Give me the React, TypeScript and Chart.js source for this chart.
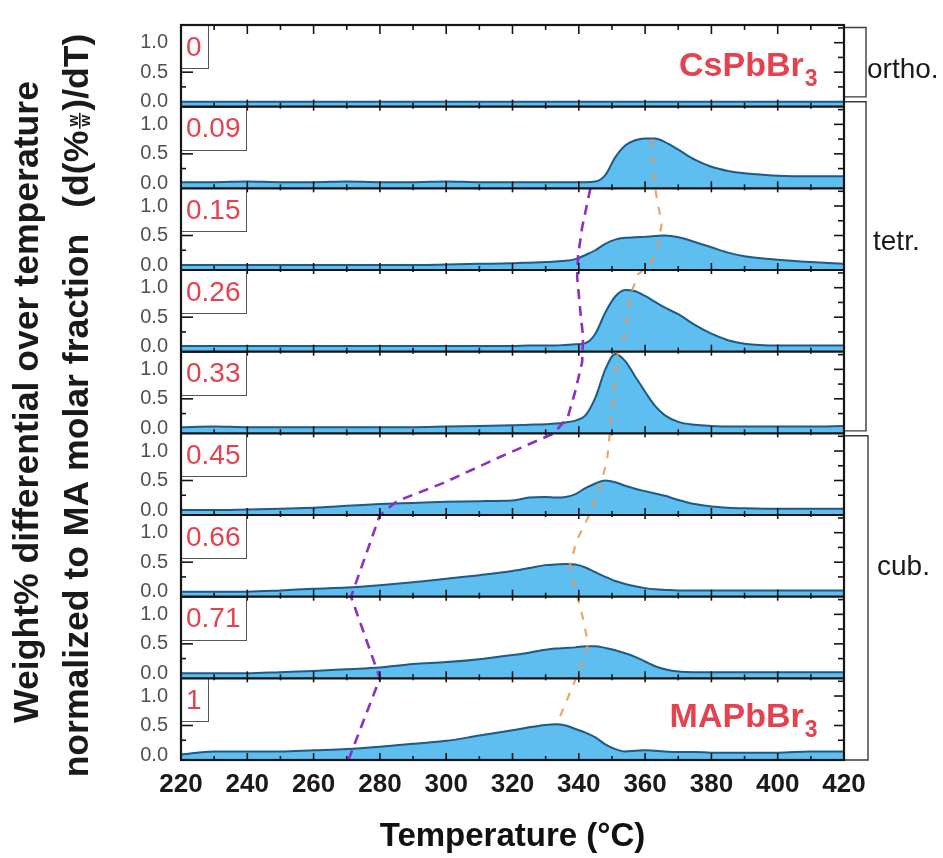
import React, { useEffect, useRef } from 'react';
import { Chart, registerables } from 'chart.js';

Chart.register(...registerables);

// ---------------- data ----------------
const TEMPERATURE_C = [220, 230, 240, 250, 260, 270, 280, 290, 300, 310, 320, 325, 330, 333, 336, 339, 342, 345, 348, 351, 354, 357, 360, 363, 366, 370, 375, 380, 385, 390, 400, 410, 420];

const MA_FRACTION_LABELS = ['0', '0.09', '0.15', '0.26', '0.33', '0.45', '0.66', '0.71', '1'];

const DTG_X000 = [0, 0, 0, 0, 0, 0, 0, 0, 0, 0, 0, 0, 0, 0, 0, 0, 0, 0, 0, 0, 0, 0, 0, 0, 0, 0, 0, 0, 0, 0, 0, 0, 0];
const DTG_X009 = [0.02, 0.02, 0.03, 0.02, 0.02, 0.03, 0.02, 0.02, 0.03, 0.02, 0.02, 0.02, 0.02, 0.02, 0.02, 0.02, 0.02, 0.03, 0.14, 0.44, 0.64, 0.73, 0.76, 0.76, 0.7, 0.57, 0.4, 0.28, 0.21, 0.17, 0.13, 0.12, 0.12];
const DTG_X015 = [0, 0, 0, 0, 0, 0, 0, 0, 0.01, 0.02, 0.03, 0.04, 0.05, 0.06, 0.07, 0.1, 0.17, 0.25, 0.36, 0.43, 0.46, 0.47, 0.48, 0.49, 0.5, 0.47, 0.39, 0.3, 0.21, 0.15, 0.09, 0.05, 0.02];
const DTG_X026 = [0.01, 0.01, 0.01, 0.01, 0.01, 0.01, 0.01, 0.01, 0.01, 0.01, 0.01, 0.02, 0.02, 0.02, 0.03, 0.04, 0.06, 0.22, 0.58, 0.85, 0.96, 0.94, 0.86, 0.76, 0.66, 0.55, 0.37, 0.22, 0.11, 0.05, 0.02, 0.02, 0.02];
const DTG_X033 = [0.02, 0.03, 0.02, 0.02, 0.02, 0.02, 0.02, 0.02, 0.03, 0.04, 0.05, 0.06, 0.07, 0.08, 0.1, 0.13, 0.22, 0.52, 1.0, 1.26, 1.14, 0.88, 0.62, 0.38, 0.22, 0.11, 0.06, 0.04, 0.03, 0.03, 0.03, 0.03, 0.04];
const DTG_X045 = [0, 0, 0.01, 0.02, 0.04, 0.07, 0.1, 0.12, 0.14, 0.15, 0.16, 0.21, 0.22, 0.21, 0.22, 0.27, 0.37, 0.45, 0.5, 0.47, 0.41, 0.36, 0.32, 0.28, 0.24, 0.17, 0.1, 0.06, 0.04, 0.03, 0.02, 0.02, 0.02];
const DTG_X066 = [0, 0, 0, 0.02, 0.05, 0.07, 0.11, 0.16, 0.22, 0.28, 0.35, 0.4, 0.45, 0.46, 0.47, 0.46, 0.41, 0.33, 0.25, 0.18, 0.13, 0.09, 0.06, 0.04, 0.03, 0.02, 0.02, 0.02, 0.02, 0.02, 0.02, 0.02, 0.02];
const DTG_X071 = [0, 0, 0, 0.02, 0.04, 0.07, 0.1, 0.16, 0.19, 0.24, 0.31, 0.35, 0.4, 0.42, 0.43, 0.44, 0.46, 0.46, 0.43, 0.39, 0.34, 0.28, 0.2, 0.12, 0.07, 0.03, 0.02, 0.02, 0.02, 0.02, 0.02, 0.02, 0.02];
const DTG_X100 = [0.01, 0.06, 0.06, 0.06, 0.08, 0.1, 0.14, 0.19, 0.24, 0.33, 0.42, 0.47, 0.51, 0.52, 0.5, 0.44, 0.38, 0.3, 0.18, 0.1, 0.06, 0.07, 0.08, 0.07, 0.06, 0.05, 0.05, 0.04, 0.04, 0.04, 0.04, 0.06, 0.06];

const PANEL_SERIES = [DTG_X000, DTG_X009, DTG_X015, DTG_X026, DTG_X033, DTG_X045, DTG_X066, DTG_X071, DTG_X100];

// guide lines: temperature vs. position in panel units (0 = top of first panel, 9 = bottom of last)
const PURPLE_T = [343.5, 341.0, 339.8, 339.5, 340.4, 341.3, 341.0, 338.9, 336.7, 332.5, 316.2, 299.0, 285.2, 280.0, 271.3, 280.0, 270.5];
const PURPLE_POS = [2.0, 2.48, 2.82, 3.08, 3.48, 3.82, 4.13, 4.49, 4.8, 5.0, 5.29, 5.61, 5.83, 6.0, 7.0, 8.0, 9.0];
const ORANGE_T = [362.1, 362.4, 363.6, 365.0, 363.9, 361.5, 357.9, 355.4, 354.5, 353.3, 351.8, 350.9, 350.3, 349.4, 348.5, 346.4, 343.4, 339.5, 337.3, 338.9, 341.3, 342.8, 341.0, 337.3, 334.3, 332.8];
const ORANGE_POS = [1.4, 1.82, 2.14, 2.43, 2.7, 2.93, 3.05, 3.33, 3.65, 3.89, 4.01, 4.29, 4.61, 4.98, 5.34, 5.65, 5.98, 6.3, 6.61, 6.9, 7.27, 7.58, 7.82, 8.18, 8.47, 8.54];

const X_MIN = 220;
const X_MAX = 420;
const X_TICK_STEP = 20;
const X_MINOR_STEP = 10;
const Y_MIN = -0.085;
const Y_MAX = 1.3;
const Y_TICK_VALUES = [0, 0.5, 1];
const Y_MARK_VALUES = [0.25, 0.5, 0.75, 1, 1.25];

const PHASE_NAMES = ['ortho.', 'tetr.', 'cub.'];
const PHASE_FROM = [0.03, 0.94, 5.03];
const PHASE_TO = [0.88, 4.97, 9.0];
const PHASE_LABEL_POS = [0.65, 2.75, 6.73];

const COMPOUND_NAMES = ['CsPbBr', 'MAPbBr'];
const COMPOUND_SUBSCRIPTS = ['3', '3'];
const COMPOUND_PANELS = [0, 8];

const Y_TITLE_LINE1 = 'Weight% differential over temperature';
const Y_TITLE_LINE2 = 'normalized to MA molar fraction';
const X_TITLE = 'Temperature (\u00B0C)';

// ---------------- styles ----------------
const FONT = '"Liberation Sans", Arial, sans-serif';
const RED = '#e5424f';
const FILL = '#5fbef0';
const LINE = '#1d5a86';

const panelDecor = {
  id: 'panelDecor',
  afterDatasetsDraw(chart: any) {
    const { ctx, chartArea: area, scales } = chart;
    const xs = scales.x;
    const yo = scales.yo;
    const n = PANEL_SERIES.length;
    const seg = (x1: number, y1: number, x2: number, y2: number) => {
      ctx.beginPath();
      ctx.moveTo(x1, y1);
      ctx.lineTo(x2, y2);
      ctx.stroke();
    };
    ctx.save();
    // inward tick marks
    ctx.strokeStyle = '#151515';
    ctx.lineWidth = 1.6;
    for (let i = 0; i < n; i++) {
      const ys = scales['y' + i];
      for (let t = X_MIN; t <= X_MAX; t += X_MINOR_STEP) {
        const px = xs.getPixelForValue(t);
        const major = (t - X_MIN) % X_TICK_STEP === 0;
        seg(px, ys.bottom, px, ys.bottom - (major ? 7 : 4));
        seg(px, ys.top, px, ys.top + (major ? (i === 0 ? 9 : 4) : (i === 0 ? 5 : 2)));
      }
      for (const v of Y_MARK_VALUES) {
        const py = ys.getPixelForValue(v);
        const major = v === 0.5 || v === 1;
        seg(area.left, py, area.left + (major ? 12 : 5), py);
        seg(area.right, py, area.right - (major ? 10 : 6), py);
      }
    }
    // label boxes
    ctx.font = '28px ' + FONT;
    ctx.textBaseline = 'middle';
    ctx.textAlign = 'left';
    for (let i = 0; i < n; i++) {
      const ys = scales['y' + i];
      const label = MA_FRACTION_LABELS[i];
      const w = Math.round(ctx.measureText(label).width + 11);
      ctx.fillStyle = '#ffffff';
      ctx.fillRect(area.left, ys.top, w, 43);
      ctx.strokeStyle = '#555555';
      ctx.lineWidth = 1;
      ctx.strokeRect(Math.round(area.left) + 0.5, Math.round(ys.top) + 0.5, w, 43);
      ctx.fillStyle = RED;
      ctx.fillText(label, area.left + 5, ys.top + 23);
    }
    // frames
    ctx.strokeStyle = '#151515';
    ctx.lineWidth = 2.2;
    ctx.strokeRect(area.left, area.top, area.right - area.left, area.bottom - area.top);
    for (let i = 1; i < n; i++) {
      const y = scales['y' + i].top;
      seg(area.left, y, area.right, y);
    }
    // compound names
    ctx.fillStyle = RED;
    ctx.textBaseline = 'alphabetic';
    COMPOUND_PANELS.forEach((p, k) => {
      const ys = scales['y' + p];
      ctx.font = 'bold 34px ' + FONT;
      const wMain = ctx.measureText(COMPOUND_NAMES[k]).width;
      ctx.font = 'bold 23px ' + FONT;
      const wSub = ctx.measureText(COMPOUND_SUBSCRIPTS[k]).width;
      const xr = xs.getPixelForValue(412);
      const base = ys.top + (k === 0 ? 51 : 49);
      ctx.font = 'bold 34px ' + FONT;
      ctx.fillText(COMPOUND_NAMES[k], xr - wSub - 1 - wMain, base);
      ctx.font = 'bold 23px ' + FONT;
      ctx.fillText(COMPOUND_SUBSCRIPTS[k], xr - wSub, base + 10);
    });
    // phase brackets
    PHASE_NAMES.forEach((name, k) => {
      const y1 = yo.getPixelForValue(PHASE_FROM[k]);
      const y2 = yo.getPixelForValue(PHASE_TO[k]);
      const xv = area.right + (k === 2 ? 24 : 22);
      ctx.strokeStyle = '#3a3a3a';
      ctx.lineWidth = 1.4;
      ctx.beginPath();
      ctx.moveTo(area.right + 1, y1);
      ctx.lineTo(xv, y1);
      ctx.lineTo(xv, y2);
      ctx.lineTo(area.right + 1, y2);
      ctx.stroke();
      ctx.fillStyle = '#1a1a1a';
      ctx.font = '28px ' + FONT;
      ctx.textAlign = 'left';
      ctx.textBaseline = 'alphabetic';
      ctx.fillText(name, xv + (k === 0 ? 1 : k === 1 ? 7 : 9), yo.getPixelForValue(PHASE_LABEL_POS[k]));
    });
    // y title
    const cy = (area.top + area.bottom) / 2;
    ctx.fillStyle = '#1a1a1a';
    ctx.font = 'bold 35.6px ' + FONT;
    ctx.save();
    ctx.translate(28, cy + 9.5);
    ctx.rotate(-Math.PI / 2);
    ctx.textAlign = 'center';
    ctx.textBaseline = 'middle';
    ctx.fillText(Y_TITLE_LINE1, 0, 0);
    ctx.restore();

    ctx.save();
    ctx.translate(78, cy + 13);
    ctx.rotate(-Math.PI / 2);
    ctx.textAlign = 'left';
    ctx.textBaseline = 'middle';
    ctx.font = 'bold 35.6px ' + FONT;
    const segA = Y_TITLE_LINE2;
    const segB = '(d(%';
    const segC = ')/dT)';
    const wA = ctx.measureText(segA).width;
    const wB = ctx.measureText(segB).width;
    const wC = ctx.measureText(segC).width;
    const gap = 26;
    const wF = 20;
    const total = wA + gap + wB + wF + wC;
    let x0 = -total / 2;
    ctx.fillText(segA, x0, 0);
    x0 += wA + gap;
    ctx.fillText(segB, x0, 0);
    x0 += wB;
    const fx = x0 + wF / 2;
    ctx.font = 'bold 15px ' + FONT;
    ctx.textAlign = 'center';
    ctx.textBaseline = 'alphabetic';
    ctx.fillText('w', fx, -0.5);
    ctx.fillText('w', fx, 12);
    ctx.strokeStyle = '#1a1a1a';
    ctx.lineWidth = 1.6;
    seg(fx - 8, 1.8, fx + 8, 1.8);
    x0 += wF;
    ctx.font = 'bold 35.6px ' + FONT;
    ctx.textAlign = 'left';
    ctx.textBaseline = 'middle';
    ctx.fillText(segC, x0, 0);
    ctx.restore();

    ctx.restore();
  },
};

export default function App() {
  const canvasRef = useRef<HTMLCanvasElement | null>(null);

  useEffect(() => {
    const canvas = canvasRef.current;
    if (!canvas) return;
    Chart.defaults.font.family = FONT;

    const datasets: any[] = [
      {
        label: 'tetr./cub. boundary',
        data: PURPLE_T.map((t, k) => ({ x: t, y: PURPLE_POS[k] })),
        xAxisID: 'x',
        yAxisID: 'yo',
        borderColor: '#8b2fc9',
        borderWidth: 2.6,
        borderDash: [10, 7],
        fill: false,
        pointRadius: 0,
        tension: 0,
        order: 0,
      },
      {
        label: 'peak position',
        data: ORANGE_T.map((t, k) => ({ x: t, y: ORANGE_POS[k] })),
        xAxisID: 'x',
        yAxisID: 'yo',
        borderColor: 'rgba(232,150,82,0.85)',
        borderWidth: 2.2,
        borderDash: [8, 9],
        fill: false,
        pointRadius: 0,
        tension: 0,
        order: 0,
      },
      ...PANEL_SERIES.map((vals, i) => ({
        label: MA_FRACTION_LABELS[i],
        data: TEMPERATURE_C.map((t, k) => ({ x: t, y: vals[k] })),
        xAxisID: 'x',
        yAxisID: 'y' + i,
        borderColor: LINE,
        borderWidth: 2,
        backgroundColor: FILL,
        fill: 'start',
        pointRadius: 0,
        cubicInterpolationMode: 'monotone',
        order: 1,
      })),
    ];

    const scales: any = {
      x: {
        type: 'linear',
        position: 'bottom',
        min: X_MIN,
        max: X_MAX,
        grid: { display: false, drawTicks: false },
        border: { display: false },
        ticks: {
          stepSize: X_TICK_STEP,
          autoSkip: false,
          maxRotation: 0,
          padding: 9,
          color: '#1a1a1a',
          font: { size: 26, weight: 'bold' },
        },
        title: {
          display: true,
          text: X_TITLE,
          color: '#111111',
          font: { size: 33, weight: 'bold' },
          padding: { top: 0, bottom: 1 },
        },
        afterFit: (s: any) => {
          s.height = 98;
        },
      },
      yo: {
        type: 'linear',
        position: 'right',
        min: 0,
        max: PANEL_SERIES.length,
        reverse: true,
        display: false,
        afterFit: (s: any) => {
          s.width = 0;
        },
      },
    };
    PANEL_SERIES.forEach((_, i) => {
      scales['y' + i] = {
        type: 'linear',
        position: 'left',
        stack: 'panels',
        stackWeight: 1,
        weight: PANEL_SERIES.length - i,
        min: Y_MIN,
        max: Y_MAX,
        grid: { display: false, drawTicks: false },
        border: { display: false },
        ticks: {
          autoSkip: false,
          padding: 13,
          color: '#505050',
          font: { size: 20 },
          callback: (v: any) => Number(v).toFixed(1),
        },
        afterBuildTicks: (s: any) => {
          s.ticks = Y_TICK_VALUES.map((v) => ({ value: v }));
        },
        afterFit: (s: any) => {
          s.width = 60;
        },
      };
    });

    const chart = new Chart(canvas, {
      type: 'line',
      data: { datasets },
      options: {
        responsive: false,
        maintainAspectRatio: false,
        devicePixelRatio: 1,
        animation: false,
        layout: { padding: { left: 121, right: 99, top: 14, bottom: 0 } },
        plugins: {
          legend: { display: false },
          tooltip: { enabled: false },
        },
        scales,
      },
      plugins: [panelDecor],
    } as any);

    return () => {
      chart.destroy();
    };
  }, []);

  return (
    <div style={{ position: 'fixed', left: 0, top: 0, width: 943, height: 858, background: '#ffffff' }}>
      <canvas ref={canvasRef} width={943} height={858} style={{ width: 943, height: 858, display: 'block' }} />
    </div>
  );
}
